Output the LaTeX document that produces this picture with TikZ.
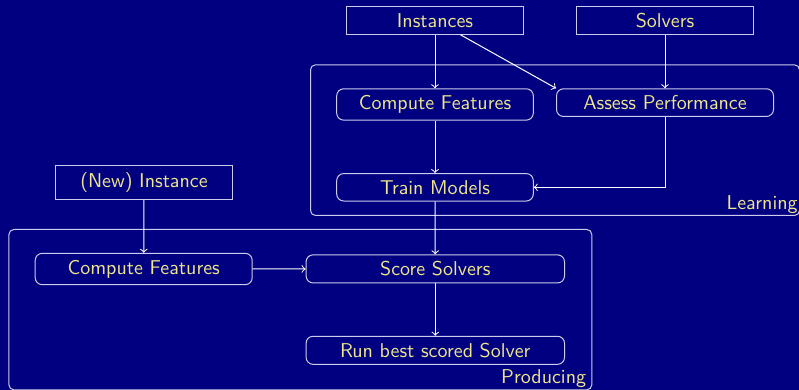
\documentclass[tikz,border=0pt]{standalone}
\usetikzlibrary{calc}
\definecolor{bgnavy}{RGB}{0,0,128}
\definecolor{txtkhaki}{RGB}{240,230,140}
\definecolor{edgelav}{RGB}{205,205,235}
\begin{document}
\begin{tikzpicture}[x=0.5pt,y=-0.5pt,
  every node/.style={font=\sffamily, text=txtkhaki},
  srcbox/.style={draw=edgelav, line width=0.5pt, minimum width=88.3pt, inner sep=0.3333em},
  stepbox/.style={draw=edgelav, line width=0.5pt, rounded corners=3.5pt, inner sep=0.3333em},
  container/.style={draw=edgelav, line width=0.5pt, rounded corners=2.5pt, inner sep=0pt, anchor=north west},
  conlabel/.style={inner sep=0pt, anchor=south east},
  conn/.style={->, draw=white, line width=0.5pt}]
\useasboundingbox[fill=bgnavy] (0,0) rectangle (799,390);

% containers
\node[container, minimum width=244.5pt, minimum height=75.35pt] (learn) at (310,64.3) {};
\node[container, minimum width=291.45pt, minimum height=80.15pt] (prod) at (8.4,229) {};
\node[conlabel] (learnlbl) at ($(learn.south east)+(-2,-2)$) {Learning};
\node[conlabel] (prodlbl) at ($(prod.south east)+(-5.8,-2.6)$) {Producing};

% sources
\node[srcbox] (inst) at (435,20.5) {Instances};
\node[srcbox] (solv) at (665,20.5) {Solvers};
\node[srcbox] (newinst) at (144,182.5) {(New) Instance};

% learning
\node[stepbox, minimum width=98.3pt, anchor=north] (cf1) at (435,88.3) {Compute Features};
\node[stepbox, minimum width=108.5pt, anchor=north] (assess) at (665,88.3) {Assess Performance};
\node[stepbox, minimum width=98.3pt] (train) at (435,187.3) {Train Models};

% producing
\node[stepbox, minimum width=108.5pt] (cf2) at (143.7,269) {Compute Features};
\node[stepbox, minimum width=129.2pt] (score) at (435.3,268.9) {Score Solvers};
\node[stepbox, minimum width=129.2pt] (run) at (435.3,350.3) {Run best scored Solver};

% connectors
\draw[conn] (inst) -- (cf1);
\draw[conn] (inst) -- (assess.north west);
\draw[conn] (solv) -- (assess);
\draw[conn] (cf1) -- (train);
\draw[conn] (assess.south) |- (train.east);
\draw[conn] (train) -- (score);
\draw[conn] (newinst) -- (cf2);
\draw[conn] (cf2) -- (score);
\draw[conn] (score) -- (run);
\end{tikzpicture}
\end{document}
